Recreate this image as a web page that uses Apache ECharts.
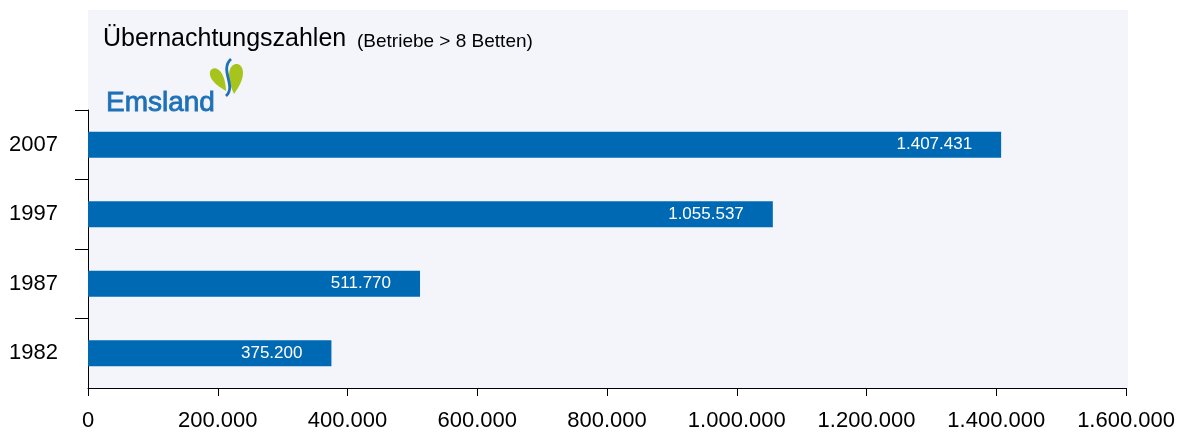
<!DOCTYPE html>
<html>
<head>
<meta charset="utf-8">
<script src="https://cdn.jsdelivr.net/npm/echarts@6/dist/echarts.min.js"></script>
<style>html,body{margin:0;padding:0;background:#fff;}#c{width:1178px;height:432px;}</style>
</head>
<body>
<div id="c"></div>
<script>
const categories = ['1982', '1987', '1997', '2007'];
const values = [375200, 511770, 1055537, 1407431];
const xTicks = [0, 200000, 400000, 600000, 800000, 1000000, 1200000, 1400000, 1600000];

function fmt(v) { return String(v).replace(/\B(?=(\d{3})+(?!\d))/g, '.'); }

const chart = echarts.init(document.getElementById('c'), null, { renderer: 'canvas' });
const FONT = 'Liberation Sans, Arial, sans-serif';
chart.setOption({
  animation: false,
  backgroundColor: '#ffffff',
  textStyle: { fontFamily: FONT },
  grid: { left: 88, right: 50, top: 110, bottom: 44, containLabel: false },
  graphic: [
    { type: 'rect', z: -10, shape: { x: 88, y: 10, width: 1040, height: 378 }, style: { fill: '#f4f5fa' }, silent: true },
    { type: 'text', style: { x: 103, y: 39.3, text: 'Übernachtungszahlen', font: '25px ' + FONT, fill: '#000', verticalAlign: 'middle' } },
    { type: 'text', style: { x: 357, y: 41.4, text: '(Betriebe > 8 Betten)', font: '19px ' + FONT, fill: '#000', verticalAlign: 'middle' } },
    { type: 'text', style: { x: 106, y: 103, text: 'Emsland', font: '28px ' + FONT, fill: '#1e71b8', stroke: '#1e71b8', lineWidth: 0.8, verticalAlign: 'middle' } },
    { type: 'bezierCurve', shape: { x1: 226, y1: 91, x2: 226, y2: 91, cpx1: 190.5, cpy1: 72.4, cpx2: 224.3, cpy2: 51.0 }, style: { fill: '#a6c41b', stroke: null } },
    { type: 'bezierCurve', shape: { x1: 234, y1: 94, x2: 234, y2: 94, cpx1: 214.1, cpy1: 51.8, cpx2: 261.9, cpy2: 56.6 }, style: { fill: '#a6c41b', stroke: null } },
    { type: 'bezierCurve', shape: { x1: 231, y1: 59, x2: 226, y2: 96, cpx1: 219, cpy1: 70, cpx2: 237, cpy2: 86 }, style: { fill: null, stroke: '#1e71b8', lineWidth: 2.8 } }
  ],
  xAxis: {
    type: 'value',
    min: 0, max: 1600000, interval: 200000,
    axisLine: { show: true, lineStyle: { color: '#000', width: 1 } },
    axisTick: { show: true, length: 8, lineStyle: { color: '#000' } },
    splitLine: { show: false },
    axisLabel: { color: '#000', fontSize: 22, fontFamily: FONT, margin: 22, formatter: fmt }
  },
  yAxis: {
    type: 'category',
    data: categories,
    axisLine: { show: true, lineStyle: { color: '#000', width: 1 } },
    axisTick: { show: true, length: 13, lineStyle: { color: '#000' }, interval: function (i) { return i > 0; } },
    axisLabel: { color: '#000', fontSize: 22, fontFamily: FONT, margin: 30 }
  },
  series: [{
    type: 'bar',
    data: values,
    barWidth: 26,
    itemStyle: { color: '#0069b4' },
    label: { show: true, position: 'insideRight', distance: 29, color: '#fff', fontSize: 17, fontFamily: FONT, formatter: p => fmt(p.value) }
  }]
});
</script>
</body>
</html>
